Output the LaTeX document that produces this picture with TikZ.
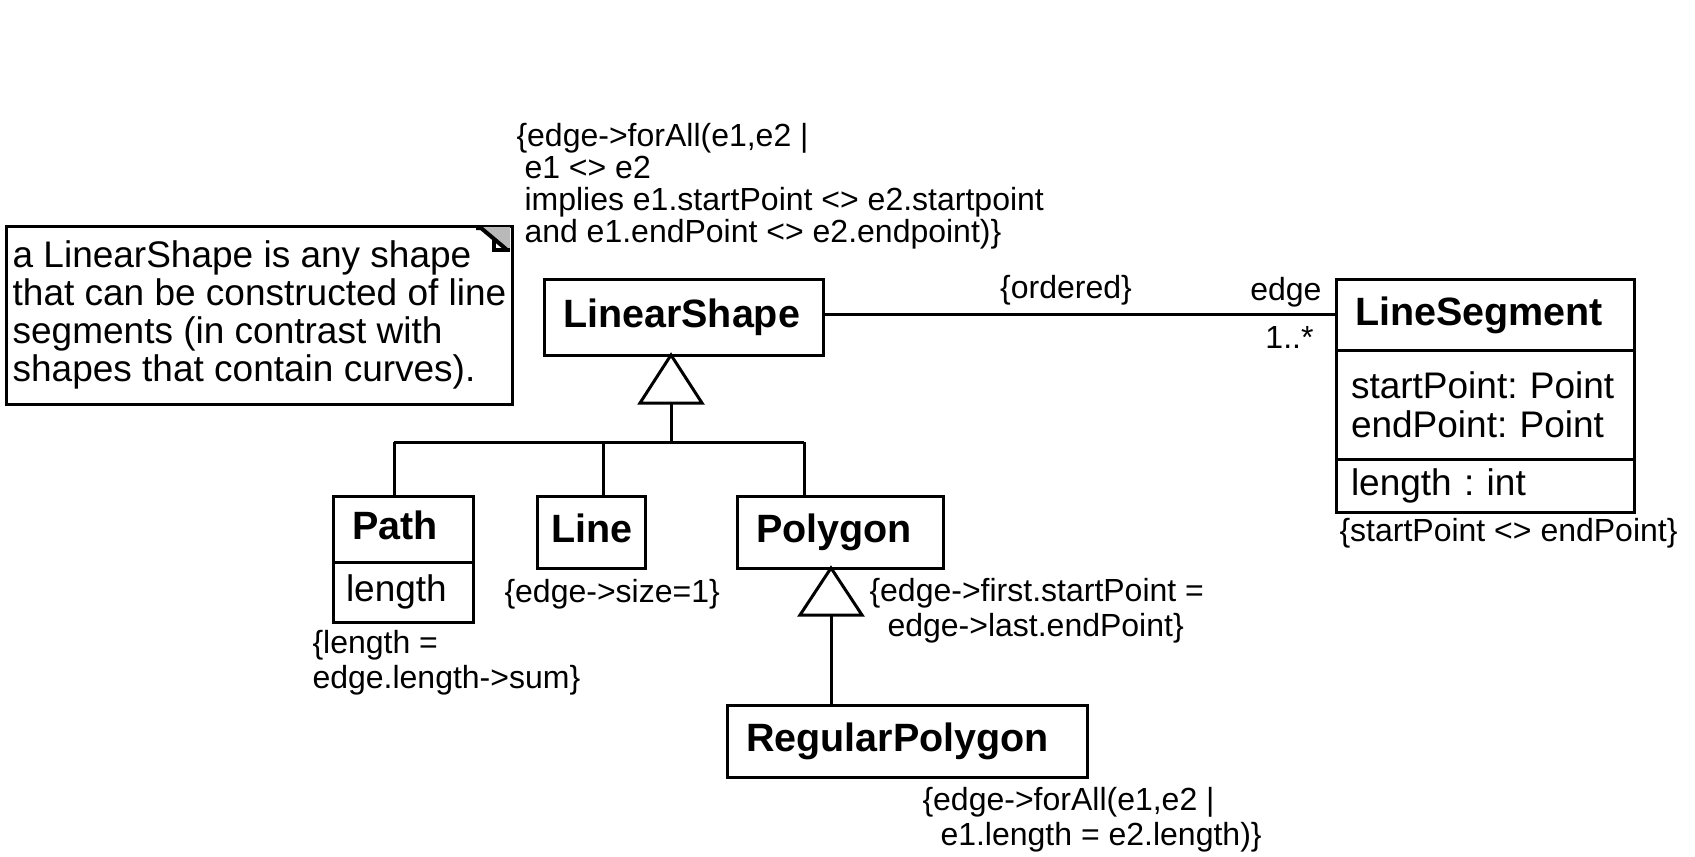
\documentclass[tikz,border=0pt]{standalone}
\usepackage{fontspec}
\setmainfont{Liberation Sans}
\usetikzlibrary{positioning}
\frenchspacing

\begin{document}
\begin{tikzpicture}[x=0.5pt, y=-0.5pt, line width=1.5pt]
	\tikzstyle{classbox} = [draw, anchor=north west, outer sep=0pt, inner xsep=9.5pt, inner ysep=0pt, align=left, font=\fontsize{19.75}{20}\selectfont\bfseries, text height=14.5pt, text depth=4pt]
	\tikzstyle{compart} = [draw, anchor=north west, outer sep=0pt, inner xsep=7.5pt, inner ysep=0pt, align=left, font=\fontsize{18.5}{19.5}\selectfont]
	\tikzstyle{constraint} = [anchor=base west, inner sep=0pt, align=left, font=\fontsize{16}{17.5}\selectfont]
	\tikzstyle{rolename} = [anchor=base east, inner sep=0pt, font=\fontsize{16}{17}\selectfont]
	\useasboundingbox (0,0) rectangle (1695,856);

	% note
	\node[draw, anchor=north west, outer sep=0pt, minimum width=252.5pt, minimum height=89pt, align=left, font=\fontsize{18.5}{19}\selectfont] (note) at (6,226) {a LinearShape is any shape\\that can be constructed of line\\segments (in contrast with\\shapes that contain curves).};
	\fill[gray!55] (480,227) -- (510,227) -- (510,250) -- cycle;
	\draw[line width=2pt] (476,228) -- (481,228) -- (506,249);
	\draw[line width=2pt] (494,239) -- (494,250) -- (510,250);

	% classes
	\node[classbox, text width=120.5pt, minimum height=38pt] (linearshape) at (544,279) {LinearShape};
	\node[classbox, text width=130pt, minimum height=35.5pt] (lineseg) at (1336,279) {LineSegment};
	\node[compart, text width=134pt, minimum height=54.5pt] (linesegattr) at (lineseg.south west) {startPoint: Point\\endPoint: Point};
	\node[compart, text width=134pt, minimum height=26.5pt] (linesegop) at (linesegattr.south west) {length : int};
	\node[classbox, text width=51pt, minimum height=33pt] (path) at (333,496) {Path};
	\node[compart, text width=57pt, inner xsep=6.5pt, minimum height=30pt] (pathattr) at (path.south west) {length};
	\node[classbox, text width=40pt, inner xsep=7pt, minimum height=36pt] (line) at (537,496) {Line};
	\node[classbox, text width=84pt, minimum height=36pt] (polygon) at (737,496) {Polygon};
	\node[classbox, text width=161pt, minimum height=36pt] (regpolygon) at (727,705) {RegularPolygon};

	% generalisation
	\coordinate (shapetip) at (671,355);
	\coordinate (shapebase) at (671,403);
	\coordinate (junction) at (671,442);
	\coordinate (pathdrop) at (394,442);
	\coordinate (linedrop) at (603,442);
	\coordinate (polydrop) at (804,442);
	\draw (shapetip) -- ++(-31,48) -- ++(62,0) -- cycle;
	\draw (shapebase) -- (junction);
	\draw (pathdrop) -- (polydrop);
	\draw (pathdrop) -- (pathdrop |- path.north);
	\draw (linedrop) -- (linedrop |- line.north);
	\draw (polydrop) -- (polydrop |- polygon.north);
	\coordinate (polytip) at (831,568);
	\coordinate (polybase) at (831,615);
	\draw (polytip) -- ++(-31,47) -- ++(62,0) -- cycle;
	\draw (polybase) -- (polybase |- regpolygon.north);

	% association
	\draw (lineseg.west) -- (lineseg.west -| linearshape.east);
	\node[rolename, anchor=base] (ordered) at (1066,298) {\{ordered\}};
	\node[rolename] (edgerole) at (1323,300) {edge};
	\node[rolename] (multiplicity) at (1315,348) {1..*};

	% constraints (anchored at the baseline of their last line)
	\node[constraint, font=\fontsize{16}{16}\selectfont] (edgeconstraint) at (515,242) {\{edge->forAll(e1,e2 |\\\hspace*{4pt}e1 <> e2\\\hspace*{4pt}implies e1.startPoint <> e2.startpoint\\\hspace*{4pt}and e1.endPoint <> e2.endpoint)\}};
	\node[constraint] (lengthconstraint) at (311,688) {\{length =\\edge.length->sum\}};
	\node[constraint] (sizeconstraint) at (503,602) {\{edge->size=1\}};
	\node[constraint] (closedconstraint) at (868,636) {\{edge->first.startPoint =\\\hspace*{9pt}edge->last.endPoint\}};
	\node[constraint] (regularconstraint) at (921,845) {\{edge->forAll(e1,e2 |\\\hspace*{9pt}e1.length = e2.length)\}};
	\node[constraint] (pointconstraint) at (1338,541) {\{startPoint <> endPoint\}};
\end{tikzpicture}
\end{document}
